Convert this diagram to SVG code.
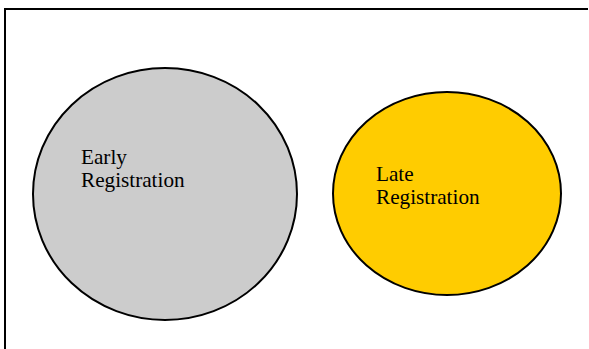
<svg xmlns="http://www.w3.org/2000/svg" width="589" height="349" viewBox="0 0 589 349">
<style>
.ell{stroke:#000;stroke-width:2}
.lbl{font-family:"Liberation Serif","Times New Roman",serif;font-size:21.2px;fill:#000}
</style>
<rect width="589" height="349" fill="#fff"/>
<path d="M5,349 V9 H588" fill="none" stroke="#000" stroke-width="2"/>
<g id="early">
<ellipse class="ell" cx="165" cy="194" rx="132" ry="126" fill="#cccccc"/>
<text class="lbl" x="81" y="164">Early</text>
<text class="lbl" x="81" y="187">Registration</text>
</g>
<g id="late">
<ellipse class="ell" cx="447" cy="193.5" rx="114" ry="101.5" fill="#ffcc00"/>
<text class="lbl" x="376" y="181">Late</text>
<text class="lbl" x="376" y="204">Registration</text>
</g>
<g id="connectors"></g>
</svg>
